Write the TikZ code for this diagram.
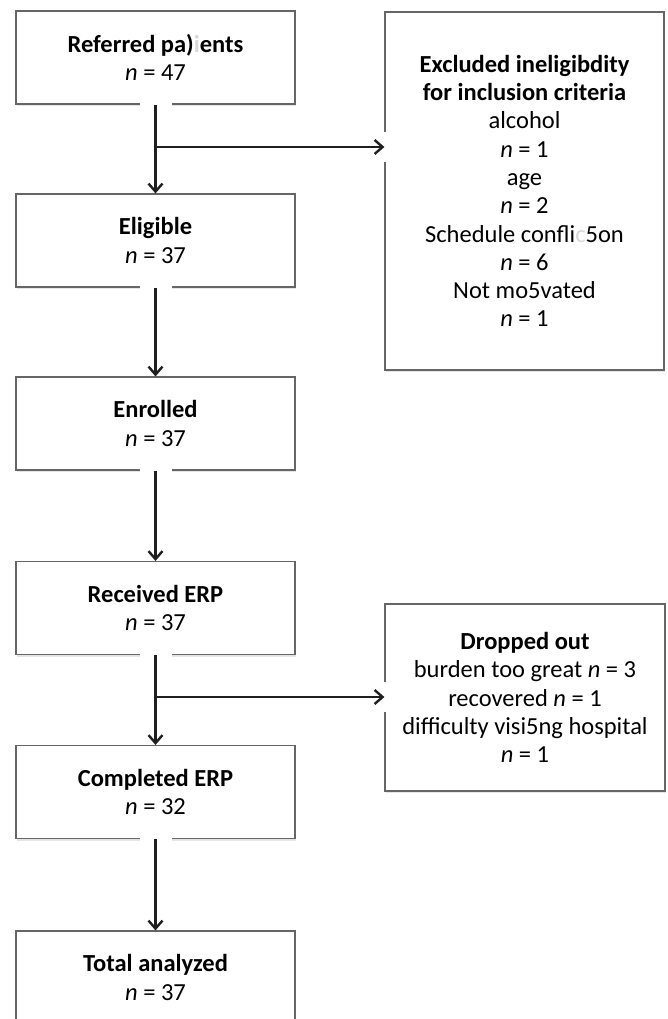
\documentclass[tikz,border=0pt]{standalone}
\usepackage{fontspec}
\setmainfont{Carlito}
\usetikzlibrary{arrows.meta,shadows,calc}
\begin{document}
\begin{tikzpicture}[x=1pt,y=-1pt,
  box/.style={draw=black!60, line width=1.2pt, fill=white, align=center, inner sep=0pt,
    minimum width=279pt, minimum height=93pt, font=\fontsize{24.5}{28.3}\selectfont,
    drop shadow={shadow xshift=0.6pt, shadow yshift=-2pt, opacity=0.2}},
  conn/.style={draw=black!88, line width=2.4pt, -{Straight Barb[length=8pt,width=14pt]}},
  gapmark/.style={draw=white, line width=4pt},
]
\clip (0,0) rectangle (667,1019);
\fill[white] (0,0) rectangle (667,1019);
% left column
\node[box] (ref)  at (155.5,57.5)  {\textbf{Referred pa)\textcolor{black!15}{i}ents}\\\textit{n} = 47};
\node[box] (elig) at (155.5,240.5) {\textbf{Eligible}\\\textit{n} = 37};
\node[box] (enr)  at (155.5,423.5) {\textbf{Enrolled}\\\textit{n} = 37};
\node[box] (rec)  at (155.5,608)   {\textbf{Received ERP}\\\textit{n} = 37};
\node[box] (comp) at (155.5,792)   {\textbf{Completed ERP}\\\textit{n} = 32};
\node[box] (tot)  at (155.5,977.5) {\textbf{Total analyzed}\\\textit{n} = 37};
% right column
\node[box, minimum height=358pt] (ex) at (524.5,191)
  {\textbf{Excluded ineligibdity}\\\textbf{for inclusion criteria}\\alcohol\\\textit{n} = 1\\age\\\textit{n} = 2\\Schedule confli\textcolor{black!15}{c}5on\\\textit{n} = 6\\Not mo5vated\\\textit{n} = 1};
\node[box, minimum width=280pt, minimum height=187pt] (drop) at (525,697.5)
  {\textbf{Dropped out}\\burden too great \textit{n} = 3\\recovered \textit{n} = 1\\difficulty visi5ng hospital\\\textit{n} = 1};
% junctions
\coordinate (j1) at (155.5,147);
\coordinate (j2) at (155.5,697);
% gaps in borders where connectors leave
\foreach \b in {ref,elig,enr,rec,comp}
  \draw[gapmark] ([xshift=-16pt]\b.south) -- ([xshift=16pt]\b.south);
\draw[gapmark] ($(j1 -| ex.west)+(0,-15)$) -- ($(j1 -| ex.west)+(0,15)$);
\draw[gapmark] ($(j2 -| drop.west)+(0,-15)$) -- ($(j2 -| drop.west)+(0,15)$);
% connectors
\draw[conn] (ref.south) -- (elig.north);
\draw[conn] (j1) -- (j1 -| ex.west);
\draw[conn] (elig.south) -- (enr.north);
\draw[conn] (enr.south) -- (rec.north);
\draw[conn] (rec.south) -- (comp.north);
\draw[conn] (j2) -- (j2 -| drop.west);
\draw[conn] (comp.south) -- (tot.north);
\end{tikzpicture}
\end{document}
